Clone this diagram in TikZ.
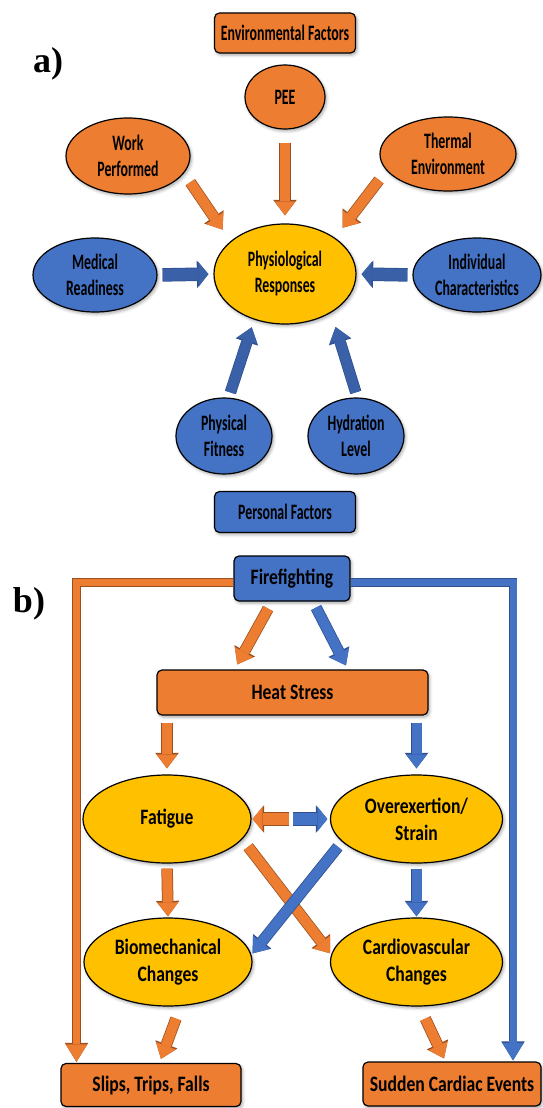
\documentclass[tikz,border=0pt]{standalone}
\usepackage{fontspec}
\usepackage{xcolor}
\usetikzlibrary{shapes.geometric,arrows.meta,calc,shadows.blur}
\setmainfont{Liberation Serif}
\newfontfamily\afont{Carlito}[FakeStretch=0.63]
\newfontfamily\bfont{Carlito}[FakeStretch=0.8]
\definecolor{orng}{HTML}{ED7D31}
\definecolor{orngdk}{HTML}{9C4F1E}
\definecolor{blu}{HTML}{4472C4}
\definecolor{bludk}{HTML}{2F4F8F}
\definecolor{yel}{HTML}{FFC000}
\tikzset{
  shd/.style={blur shadow={shadow xshift=1.5pt,shadow yshift=-2pt,shadow blur radius=3pt,shadow opacity=35}},
  ell/.style={ellipse, draw=black, line width=1.2pt, inner sep=0pt, align=center, shd},
  rbox/.style={rectangle, rounded corners=5pt, draw=black, line width=1.2pt, inner sep=0pt, align=center, shd},
  blk/.style 2 args={line width=10pt, draw=#1, -{Triangle[length=14pt,width=21pt,line width=0pt]},
    preaction={draw=#2, line width=11.5pt, -{Triangle[length=15.5pt,width=23.5pt,line width=0pt]}}},
  flat/.style 2 args={line width=12pt, draw=#1, -{Triangle[length=10pt,width=25pt,line width=0pt]},
    preaction={draw=#2, line width=13.5pt, -{Triangle[length=11.5pt,width=27.5pt,line width=0pt]}}},
  frame/.style 2 args={line width=7pt, draw=#1, line join=miter, -{Triangle[length=17.5pt,width=21pt,line width=0pt]},
    preaction={draw=#2, line width=8.5pt, -{Triangle[length=19pt,width=23.5pt,line width=0pt]}}},
  oarrow/.style={blk={orng}{orngdk}},
  barrow/.style={blk={blu}{bludk}},
}
\begin{document}
\begin{tikzpicture}[x=1pt,y=1pt]
\useasboundingbox (0,0) rectangle (542,-1108);

% a)
\begin{scope}[every node/.append style={font=\afont\bfseries\fontsize{22}{26}\selectfont}]
\node[font=\bfseries\fontsize{36}{36}\selectfont] (la) at (48,-64) {a)};
\node[rbox, fill=orng, minimum width=141pt, minimum height=40pt] (env) at (285,-33) {Environmental Factors};
\node[ell, fill=orng, minimum width=80pt, minimum height=64pt] (pee) at (285,-97) {PEE};
\node[ell, fill=orng, minimum width=124pt, minimum height=76pt] (work) at (128,-156) {Work\\Performed};
\node[ell, fill=orng, minimum width=136pt, minimum height=74pt] (therm) at (448,-154) {Thermal\\Environment};
\node[ell, fill=blu, minimum width=124pt, minimum height=74pt] (med) at (95,-275) {Medical\\Readiness};
\node[ell, fill=yel, minimum width=142pt, minimum height=100pt] (phys) at (285,-274) {Physiological\\Responses};
\node[ell, fill=blu, minimum width=128pt, minimum height=74pt] (indiv) at (477,-275) {Individual\\Characteristics};
\node[ell, fill=blu, minimum width=96pt, minimum height=76pt] (fit) at (224,-436) {Physical\\Fitness};
\node[ell, fill=blu, minimum width=96pt, minimum height=76pt] (hyd) at (356,-436) {Hydration\\Level};
\node[rbox, fill=blu, minimum width=141pt, minimum height=41pt] (pers) at (285,-512) {Personal Factors};
\end{scope}

\draw[oarrow, shorten <=11pt, shorten >=14pt] (work.-17) -- (phys.149);
\draw[oarrow, shorten <=13pt, shorten >=8pt] (pee.south) -- (phys.north);
\draw[oarrow, shorten <=12pt, shorten >=12.5pt] (therm.195) -- (phys.36);
\draw[flat={blu!85!black}{bludk}, shorten <=5pt, shorten >=5pt] (med.east) -- (phys.west);
\draw[flat={blu!85!black}{bludk}, shorten <=5pt, shorten >=5pt] (indiv.west) -- (phys.east);
\draw[blk={blu!85!black}{bludk}, shorten <=5.4pt, shorten >=8pt] (fit.83.5) -- (phys.236);
\draw[blk={blu!85!black}{bludk}, shorten <=5.3pt, shorten >=15pt] (hyd.88) -- (phys.-40);

% b)
\begin{scope}[every node/.append style={font=\bfont\bfseries\fontsize{22}{27}\selectfont}]
\node[font=\bfseries\fontsize{36}{36}\selectfont] (lb) at (29,-604) {b)};
\node[rbox, fill=blu, minimum width=116pt, minimum height=45pt] (fire) at (292,-578.5) {Firefighting};
\node[rbox, fill=orng, minimum width=271pt, minimum height=45pt] (heat) at (292.5,-692.5) {Heat Stress};
\node[ell, fill=yel, minimum width=168pt, minimum height=88pt] (fat) at (167,-819) {Fatigue};
\node[ell, fill=yel, minimum width=172pt, minimum height=88pt] (over) at (416.5,-819) {Overexertion/\\Strain};
\node[ell, fill=yel, minimum width=168pt, minimum height=88pt] (bio) at (168,-962) {Biomechanical\\Changes};
\node[ell, fill=yel, minimum width=172pt, minimum height=88pt] (card) at (416.5,-962) {Cardiovascular\\Changes};
\node[rbox, fill=orng, minimum width=180pt, minimum height=43pt] (slips) at (151,-1085) {Slips, Trips, Falls};
\node[rbox, fill=orng, minimum width=178pt, minimum height=44pt] (scd) at (452,-1084) {Sudden Cardiac Events};
\end{scope}
\coordinate (mid) at ($(fat.east)!0.5!(over.west)$);

\draw[frame={orng}{orngdk}, shorten >=1pt] ([yshift=-4pt]fire.west) -| ([xshift=-74.5pt]slips.north);
\draw[frame={blu}{bludk}, shorten >=1pt] ([yshift=-4pt]fire.east) -| ([xshift=61pt]scd.north);
\draw[oarrow, shorten <=8pt, shorten >=5.7pt] ([xshift=-20pt]fire.south) -- ([xshift=-58pt]heat.north);
\draw[barrow, shorten <=6.7pt, shorten >=4.5pt] ([xshift=21pt]fire.south) -- ([xshift=55.5pt]heat.north);
\draw[oarrow, shorten <=7pt, shorten >=6pt] (heat.south -| fat) -- (fat.north);
\draw[barrow, shorten <=7pt, shorten >=6pt] (heat.south -| over) -- (over.north);
\draw[flat={orng}{orngdk}, shorten <=1.5pt, shorten >=1pt] (mid) -- (fat.east);
\draw[flat={blu}{bludk}, shorten <=2pt, shorten >=2.5pt] (mid) -- (over.west);
\draw[oarrow, shorten <=5pt, shorten >=1pt] (fat.south) -- (bio.north);
\draw[barrow, shorten <=5pt, shorten >=1pt] (over.south) -- (card.north);
\draw[oarrow, shorten <=9.5pt, shorten >=1.5pt] (fat.-15.5) -- (card.175);
\draw[barrow, shorten <=6.5pt, shorten >=1.7pt] (over.197) -- (bio.5);
\draw[oarrow, shorten <=13.3pt, shorten >=4.3pt] (bio.-74) -- ([xshift=8.5pt]slips.north);
\draw[oarrow, shorten <=13.3pt, shorten >=3.3pt] (card.-86) -- ([xshift=-6.6pt]scd.north);
\end{tikzpicture}
\end{document}
